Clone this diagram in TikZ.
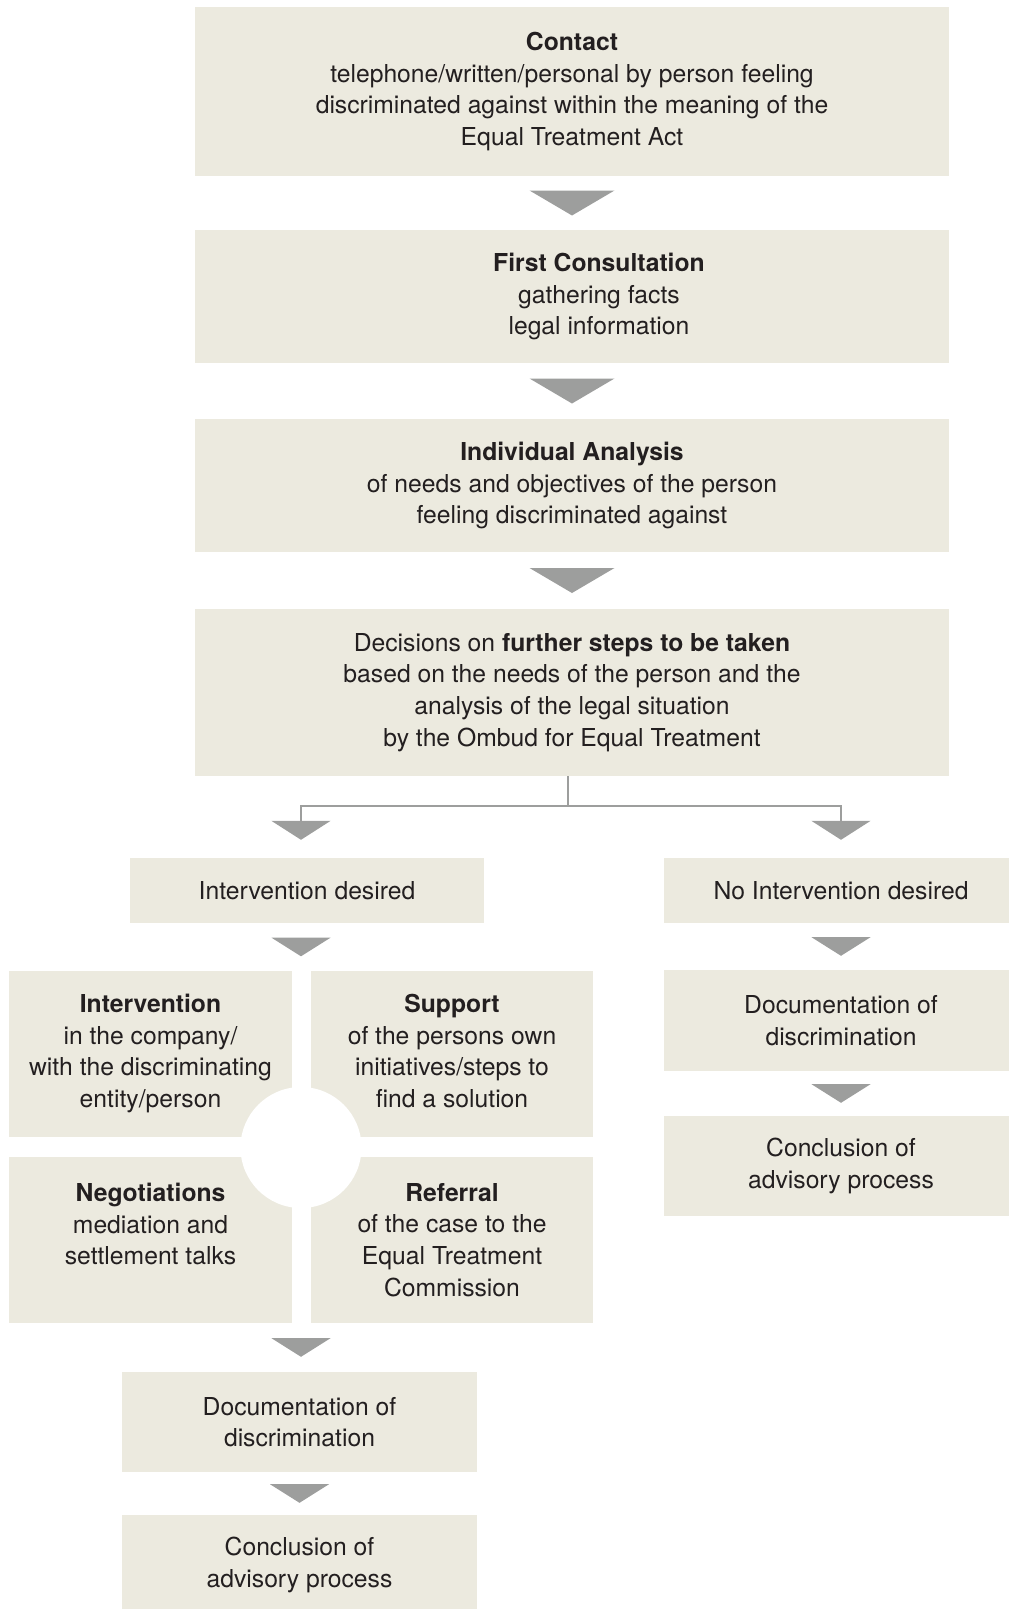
\documentclass[tikz,border=0pt]{standalone}
\usepackage{fontspec}
\setmainfont{TeX Gyre Heros}
\usetikzlibrary{decorations.markings,arrows.meta}
\definecolor{boxbg}{HTML}{ECEADF}
\definecolor{arrowgray}{HTML}{9D9E9D}
\definecolor{ink}{HTML}{231F20}
\tikzset{stagetext/.style={inner sep=0pt,align=center,text=ink,font=\fontsize{24.7pt}{31.7pt}\selectfont}}
\tikzset{stage/.style={stagetext,fill=boxbg}}
\tikzset{quadtext/.style={stagetext,anchor=north,yshift=-23pt}}
\tikzset{bigflow/.style={decoration={markings,mark=at position 0.5 with {\fill[arrowgray] (1.25,0) -- (-1.25,4.25) -- (-1.25,-4.25) -- cycle;}},postaction={decorate}}}
\tikzset{smallflow/.style={decoration={markings,mark=at position 0.5 with {\fill[arrowgray] (0.93,0) -- (-0.93,2.95) -- (-0.93,-2.95) -- cycle;}},postaction={decorate}}}
\tikzset{branch/.style={draw=arrowgray,line width=2pt}}

\begin{document}
\begin{tikzpicture}[x=10pt,y=-10pt]
  \useasboundingbox (0,0) rectangle (100.9,160.9);
  % main column
  \node[stage,minimum width=754pt,minimum height=169pt] (contact) at (57.2,9.15) {\textbf{Contact}\\telephone/written/personal by person feeling\\discriminated against within the meaning of the\\Equal Treatment Act};
  \node[stage,minimum width=754pt,minimum height=133pt,label={[stagetext,xshift=27pt]center:{\textbf{First Consultation}\\gathering facts\\legal information}}] (consult) at (57.2,29.65) {};
  \node[stage,minimum width=754pt,minimum height=133pt] (analysis) at (57.2,48.55) {\textbf{Individual Analysis}\\of needs and objectives of the person\\feeling discriminated against};
  \node[stage,minimum width=754pt,minimum height=167pt] (decide) at (57.2,69.25) {Decisions on \textbf{further steps to be taken}\\based on the needs of the person and the\\analysis of the legal situation\\by the Ombud for Equal Treatment};
  \path[bigflow] (contact) -- (consult);
  \path[bigflow] (consult) -- (analysis);
  \path[bigflow] (analysis) -- (decide);
  % split
  \node[stage,minimum width=354pt,minimum height=65pt] (intv) at (30.7,89.05) {Intervention desired};
  \node[stage,minimum width=354pt,minimum height=65pt] (nointv) at (84.1,89.05) {No Intervention desired};
  \coordinate (split) at (56.8,80.6);
  % intervention quadrants
  \node[stage,minimum width=283pt,minimum height=166pt,label={[quadtext]north:{\textbf{Intervention}\\in the company/\\with the discriminating\\entity/person}}] (tl) at (15.05,105.4) {};
  \node[stage,minimum width=282pt,minimum height=166pt,label={[quadtext]north:{\textbf{Support}\\of the persons own\\initiatives/steps to\\find a solution}}] (tr) at (45.2,105.4) {};
  \node[stage,minimum width=283pt,minimum height=166pt,label={[quadtext,yshift=-3pt]north:{\textbf{Negotiations}\\mediation and\\settlement talks}}] (bl) at (15.05,124.0) {};
  \node[stage,minimum width=282pt,minimum height=166pt,label={[quadtext,yshift=-3pt]north:{\textbf{Referral}\\of the case to the\\Equal Treatment\\Commission}}] (br) at (45.2,124.0) {};
  \node[circle,fill=white,minimum size=121pt,inner sep=0pt] (hub) at (30.1,114.75) {};
  \draw[branch] (decide.south -| split) -- (split);
  \draw[branch,-{Triangle[width=59pt,length=19pt]},shorten >=18pt] (split) -| (intv.north -| hub);
  \draw[branch,-{Triangle[width=59pt,length=19pt]},shorten >=18pt] (split) -| (nointv.north);
  \path[smallflow] (intv.south -| hub) -- (hub |- tl.north);
  % left column end
  \node[stage,minimum width=355pt,minimum height=100pt] (ldoc) at (29.95,142.2) {Documentation of\\discrimination};
  \node[stage,minimum width=355pt,minimum height=100pt] (lconcl) at (29.95,156.5) {Conclusion of\\advisory process};
  \path[smallflow] (bl.south -| hub) -- (hub |- ldoc.north);
  \path[smallflow] (ldoc) -- (lconcl);
  % right column
  \node[stage,minimum width=354pt,minimum height=101pt] (rdoc) at (84.1,102.05) {Documentation of\\discrimination};
  \node[stage,minimum width=354pt,minimum height=100pt] (rconcl) at (84.1,116.6) {Conclusion of\\advisory process};
  \path[smallflow] (nointv) -- (rdoc);
  \path[smallflow] (rdoc) -- (rconcl);
\end{tikzpicture}
\end{document}
